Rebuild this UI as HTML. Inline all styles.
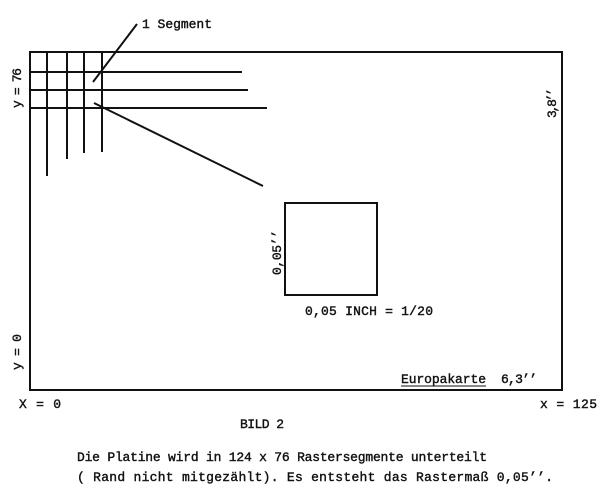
<!DOCTYPE html>
<html><head><meta charset="utf-8"><style>html,body{margin:0;padding:0;background:#fff}svg{display:block}</style></head>
<body>
<svg width="600" height="493" viewBox="0 0 600 493" xmlns="http://www.w3.org/2000/svg" font-family="Liberation Mono, monospace" font-size="13" fill="#111">
<g stroke="#111" stroke-width="2" fill="none">
<rect x="30" y="52" width="532" height="338"/>
<line x1="47" y1="52" x2="47" y2="176"/>
<line x1="67" y1="52" x2="67" y2="159"/>
<line x1="84" y1="52" x2="84" y2="153"/>
<line x1="102" y1="52" x2="102" y2="152"/>
<line x1="30" y1="72" x2="242" y2="72"/>
<line x1="30" y1="90" x2="248" y2="90"/>
<line x1="30" y1="108" x2="267" y2="108"/>
<line x1="93" y1="82" x2="137" y2="24"/>
<line x1="94" y1="103" x2="263" y2="186"/>
<rect x="285" y="203" width="92" height="92"/>
<line x1="401" y1="386" x2="486" y2="386" stroke-width="1"/>
</g>
<g stroke="#111" stroke-width="0.4">
<text x="142" y="28" textLength="70">1 Segment</text>
<text transform="translate(21,108) rotate(-90)" textLength="40">y = 76</text>
<text transform="translate(21,370) rotate(-90)" textLength="36">y = 0</text>
<text transform="translate(556,118) rotate(-90)" textLength="30">3,8’’</text>
<text transform="translate(281,275) rotate(-90)" textLength="45">0,05’’</text>
<text x="305" y="315" textLength="128">0,05 INCH = 1/20</text>
<text x="401" y="383" textLength="85">Europakarte</text>
<text x="501" y="383" textLength="36">6,3’’</text>
<text x="19" y="408" textLength="42">X = 0</text>
<text x="540" y="408" textLength="57">x = 125</text>
<text x="240" y="428" textLength="44">BILD 2</text>
<text x="77" y="461" textLength="410">Die Platine wird in 124 x 76 Rastersegmente unterteilt</text>
<text x="77" y="481" textLength="476">( Rand nicht mitgezählt). Es entsteht das Rastermaß 0,05’’.</text>
</g>
</svg>
</body></html>
